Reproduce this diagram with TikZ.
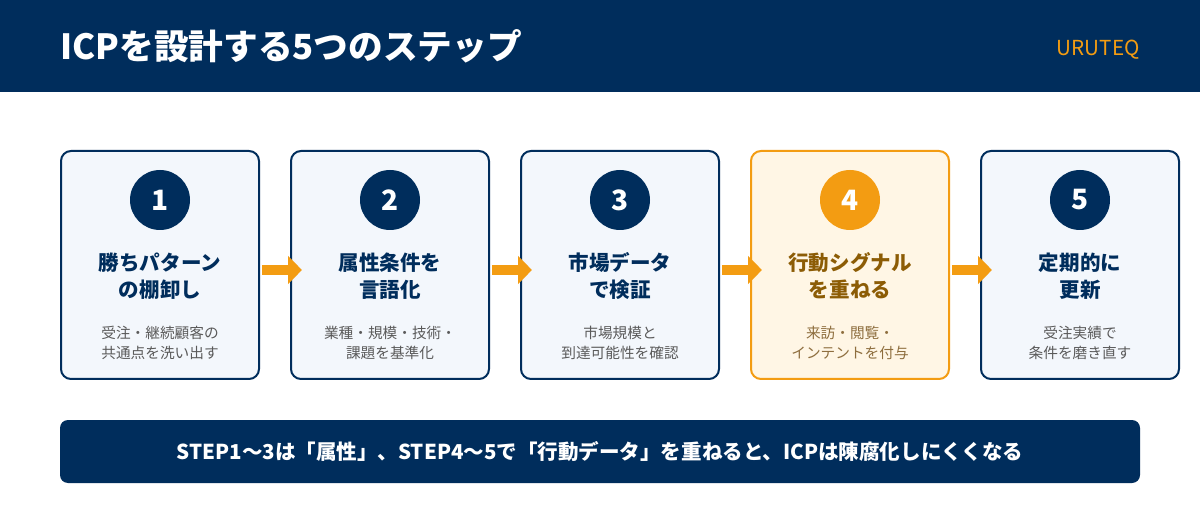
\documentclass[tikz,border=0pt]{standalone}
\usepackage{fontspec}
\setmainfont{Noto Sans CJK JP}
\usetikzlibrary{arrows.meta}
\definecolor{navy}{HTML}{002D5C}
\definecolor{orng}{HTML}{F39C12}
\definecolor{cardfill}{HTML}{F3F7FC}
\definecolor{hlfill}{HTML}{FFF6E5}
\definecolor{hltitle}{HTML}{8C5C05}
\definecolor{hlsub}{HTML}{8E6E3E}
\definecolor{subgray}{HTML}{5A5A5A}
\begin{document}
\begin{tikzpicture}[x=0.75pt,y=-0.75pt,
  card/.style={draw=navy,fill=cardfill,line width=1.5pt,rounded corners=7.5pt,
    minimum width=148.5pt,minimum height=171pt,inner sep=0pt},
  hlcard/.style={card,draw=orng,fill=hlfill},
  badge/.style={circle,fill=navy,minimum size=45pt,inner sep=0pt,text=white,
    font=\fontsize{21pt}{21pt}\selectfont\bfseries},
  hlbadge/.style={badge,fill=orng},
  ttl/.style={align=center,text=navy,inner sep=0pt,
    font=\fontsize{15.4pt}{20.25pt}\selectfont\bfseries},
  hlttl/.style={ttl,text=hltitle},
  sub/.style={align=center,text=subgray,inner sep=0pt,
    font=\fontsize{11pt}{15.4pt}\selectfont},
  hlsubst/.style={sub,text=hlsub},
  arr/.style={draw=orng,line width=7.5pt,
    -{Triangle[length=10.5pt,width=20.5pt]}},
]
\useasboundingbox (0,0) rectangle (1200,520);
\fill[white] (0,0) rectangle (1200,520);
% header
\fill[navy] (0,0) rectangle (1200,92);
\node[anchor=west,text=white,inner sep=0pt,font=\fontsize{26pt}{26pt}\selectfont\bfseries] (title) at (60,46) {ICPを設計する5つのステップ};
\node[anchor=east,text=orng,inner sep=0pt,font=\fontsize{15.5pt}{15.5pt}\selectfont] (brand) at (1140,50) {URUTEQ};
% cards
\node[card] (c1) at (160,265) {};
\node[card] (c2) at (390,265) {};
\node[card] (c3) at (620,265) {};
\node[hlcard] (c4) at (850,265) {};
\node[card] (c5) at (1080,265) {};
% badges
\node[badge] (b1) at (160,200) {1};
\node[badge] (b2) at (390,200) {2};
\node[badge] (b3) at (620,200) {3};
\node[hlbadge] (b4) at (850,200) {4};
\node[badge] (b5) at (1080,200) {5};
% titles
\node[ttl] (t1) at (160,276) {勝ちパターン\\の棚卸し};
\node[ttl] (t2) at (390,276) {属性条件を\\言語化};
\node[ttl] (t3) at (620,276) {市場データ\\で検証};
\node[hlttl] (t4) at (850,276) {行動シグナル\\を重ねる};
\node[ttl] (t5) at (1080,276) {定期的に\\更新};
% subtitles
\node[sub] (s1) at (160,343) {受注・継続顧客の\\共通点を洗い出す};
\node[sub] (s2) at (390,343) {業種・規模・技術・\\課題を基準化};
\node[sub] (s3) at (620,343) {市場規模と\\到達可能性を確認};
\node[hlsubst] (s4) at (850,343) {来訪・閲覧・\\インテントを付与};
\node[sub] (s5) at (1080,343) {受注実績で\\条件を磨き直す};
% arrows
\draw[arr] ([xshift=1.5pt,yshift=-3.75pt]c1.east) -- ([xshift=9pt,yshift=-3.75pt]c2.west);
\draw[arr] ([xshift=1.5pt,yshift=-3.75pt]c2.east) -- ([xshift=9pt,yshift=-3.75pt]c3.west);
\draw[arr] ([xshift=1.5pt,yshift=-3.75pt]c3.east) -- ([xshift=9pt,yshift=-3.75pt]c4.west);
\draw[arr] ([xshift=1.5pt,yshift=-3.75pt]c4.east) -- ([xshift=9pt,yshift=-3.75pt]c5.west);
% bottom bar
\node[fill=navy,rounded corners=6pt,minimum width=810pt,minimum height=47.25pt,inner sep=0pt,
  text=white,font=\fontsize{15.4pt}{15.4pt}\selectfont\bfseries] (bar) at (600,451.5)
  {STEP1～3は「属性」、STEP4～5で「行動データ」を重ねると、ICPは陳腐化しにくくなる};
\end{tikzpicture}
\end{document}
